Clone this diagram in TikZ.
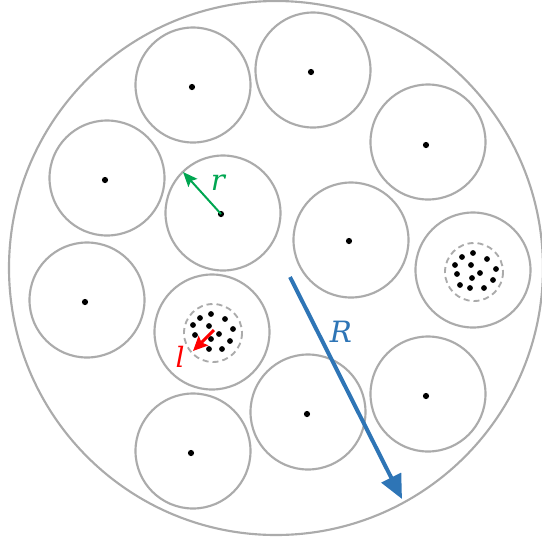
\documentclass[tikz,border=0pt]{standalone}
\usepackage{fontspec}
\setmainfont{DejaVu Serif}
\usepackage{tikz}
\usetikzlibrary{arrows.meta}
\definecolor{cRing}{HTML}{ABABAB}
\definecolor{cGreen}{HTML}{00A651}
\definecolor{cRed}{HTML}{FF0000}
\definecolor{cBlue}{HTML}{2E75B6}
\tikzset{
  ring/.style={draw=cRing,line width=1.6pt},
  core/.style={draw=cRing,line width=1.4pt,dash pattern=on 4.5pt off 3pt},
  pt/.style={fill=black},
  sym/.style={font=\itshape,text=#1,inner sep=0pt},
}
\begin{document}
\begin{tikzpicture}[x=0.75pt,y=-0.75pt]
  \useasboundingbox (0,0) rectangle (542,544);
  % outer boundary
  \coordinate (O) at (276,268);
  \draw[ring] (O) circle (267);
  % grains
  \foreach \x/\y in {193/85,313/70,107/178,428/142,223/213,351/240,473/270,87/300,212/332,428/394,308/412,193/451}
    \draw[ring] (\x,\y) circle (57.5);
  % centre points
  \foreach \x/\y in {192/87,311/72,105/180,426/145,349/241,85/302,426/396,307/414,191/453}
    \fill[pt] (\x,\y) circle (3.1);
  \coordinate (c5) at (221,214);
  \fill[pt] (c5) circle (3.1);
  % clustered cores
  \coordinate (k9) at (213,333);
  \coordinate (k7) at (474,272);
  \draw[core] (k9) circle (29);
  \draw[core] (k7) circle (29);
  \foreach \x/\y in {200/318,211/314,225/319,193/325,209/326,233/329,195/335,219/334,230/341,209/349,222/349,211/339}
    \fill[pt] (\x,\y) circle (2.9);
  \foreach \x/\y in {462/257,473/253,487/259,455/265,471/265,496/269,457/274,480/273,472/278,493/280,460/285,470/288,484/288}
    \fill[pt] (\x,\y) circle (2.9);
  % radii
  \coordinate (rtip) at (183,172);
  \draw[cGreen,line width=1.5pt,-{Stealth[length=11pt,width=9pt,inset=2pt]}] (c5) -- (rtip);
  \node[sym=cGreen,font=\itshape\fontsize{22}{24}\selectfont] (rlbl) at (218,183) {r};
  \coordinate (ltail) at (214,330);
  \coordinate (ltip) at (193,351);
  \draw[cRed,line width=2.2pt,-{Stealth[length=11pt,width=10pt,inset=2pt]}] (ltail) -- (ltip);
  \node[sym=cRed,font=\itshape\fontsize{21}{24}\selectfont] (llbl) at (180,357) {l};
  \coordinate (Rtail) at (290,277);
  \coordinate (Rtip) at (402,499);
  \draw[cBlue,line width=3pt,-{Triangle[length=18pt,width=16pt]}] (Rtail) -- (Rtip);
  \node[sym=cBlue,font=\itshape\fontsize{22}{26}\selectfont] (Rlbl) at (341,332) {R};
\end{tikzpicture}
\end{document}
